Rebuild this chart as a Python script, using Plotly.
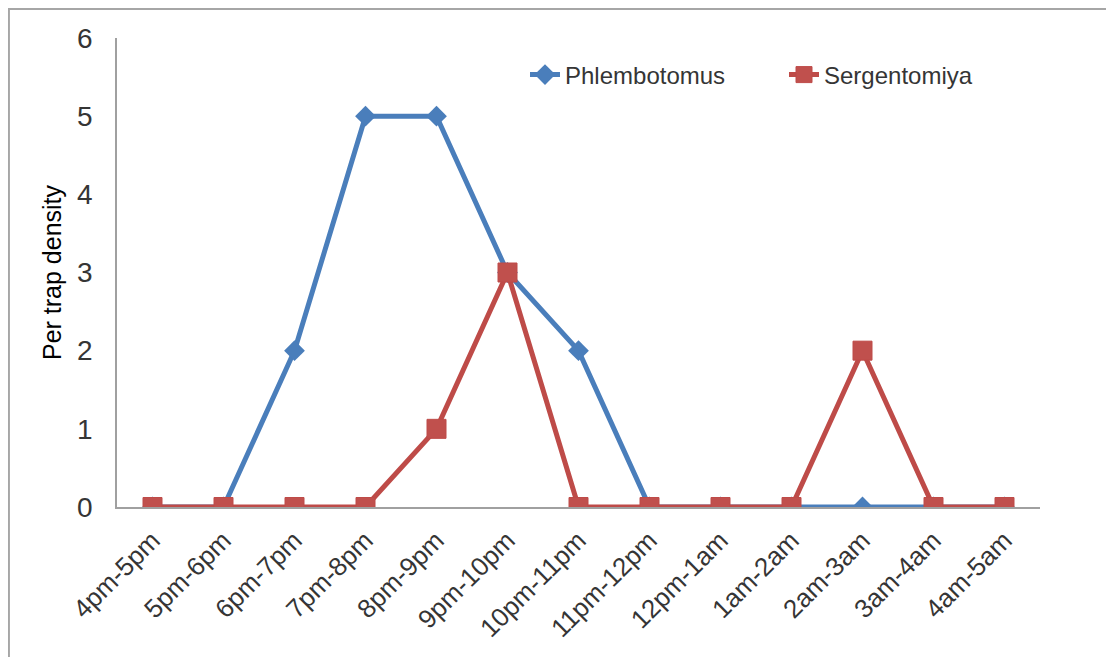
import plotly.graph_objects as go

categories = ["4pm-5pm", "5pm-6pm", "6pm-7pm", "7pm-8pm", "8pm-9pm", "9pm-10pm",
              "10pm-11pm", "11pm-12pm", "12pm-1am", "1am-2am", "2am-3am", "3am-4am", "4am-5am"]
phlebotomus = [0, 0, 2, 5, 5, 3, 2, 0, 0, 0, 0, 0, 0]
sergentomyia = [0, 0, 0, 0, 1, 3, 0, 0, 0, 0, 2, 0, 0]
y_ticks = [0, 1, 2, 3, 4, 5, 6]

# the page puts the figure at an 8px offset
OFF = 8
W, H = 1114, 657
L, T = 117 - OFF, 38 - OFF
R = W - (1040 - OFF)
B = H - (507 - OFF)
pw, ph = W - L - R, H - T - B

FONT = "Liberation Sans, Arial, sans-serif"
BLUE = "#4A7EBB"
RED = "#BE4B48"
TXT = "#353535"

fig = go.Figure()
fig.add_trace(go.Scatter(
    x=categories, y=phlebotomus, name="Phlembotomus", mode="lines+markers",
    line=dict(color=BLUE, width=5),
    marker=dict(symbol="diamond", size=16, color=BLUE, line=dict(width=0)),
))
fig.add_trace(go.Scatter(
    x=categories, y=sergentomyia, name="Sergentomiya", mode="lines+markers",
    line=dict(color=RED, width=5),
    marker=dict(symbol="square", size=19, color="#C0504D", line=dict(width=1, color=RED)),
))

def px_x(px):
    return (px - OFF - L) / pw

def px_y(py):
    return (H - B - (py - OFF)) / ph

fig.update_layout(
    width=W, height=H,
    margin=dict(l=L, r=R, t=T, b=B, autoexpand=False),
    paper_bgcolor="white", plot_bgcolor="white",
    font=dict(family=FONT, size=24, color=TXT),
    showlegend=True,
    legend=dict(
        orientation="h", x=px_x(525), xanchor="left", y=px_y(75), yanchor="middle",
        font=dict(size=24, color=TXT), entrywidth=214, entrywidthmode="pixels",
        bgcolor="rgba(0,0,0,0)", traceorder="normal",
    ),
    xaxis=dict(
        type="category", categoryorder="array", categoryarray=categories,
        range=[-0.5, len(categories) - 0.5],
        showline=True, linecolor="#A0A0A0", linewidth=1.5,
        showgrid=False, zeroline=False, ticks="", tickangle=-45,
        tickfont=dict(size=26, color=TXT), ticklabelstandoff=6,
    ),
    yaxis=dict(
        range=[0, 6], tickvals=y_ticks,
        showline=True, linecolor="#A0A0A0", linewidth=1.5,
        showgrid=False, zeroline=False, ticks="",
        tickfont=dict(size=28, color=TXT), ticklabelstandoff=17,
        title=dict(text="Per trap density", font=dict(size=25, color="#000000"), standoff=8),
    ),
    shapes=[dict(
        type="rect", xref="paper", yref="paper",
        x0=-L / pw + 0.001, x1=1.2, y0=-0.5, y1=1 + T / ph - 0.002,
        line=dict(color="#A6A6A6", width=2), fillcolor="rgba(0,0,0,0)", layer="below",
    )],
)

fig.write_html("out.html")
